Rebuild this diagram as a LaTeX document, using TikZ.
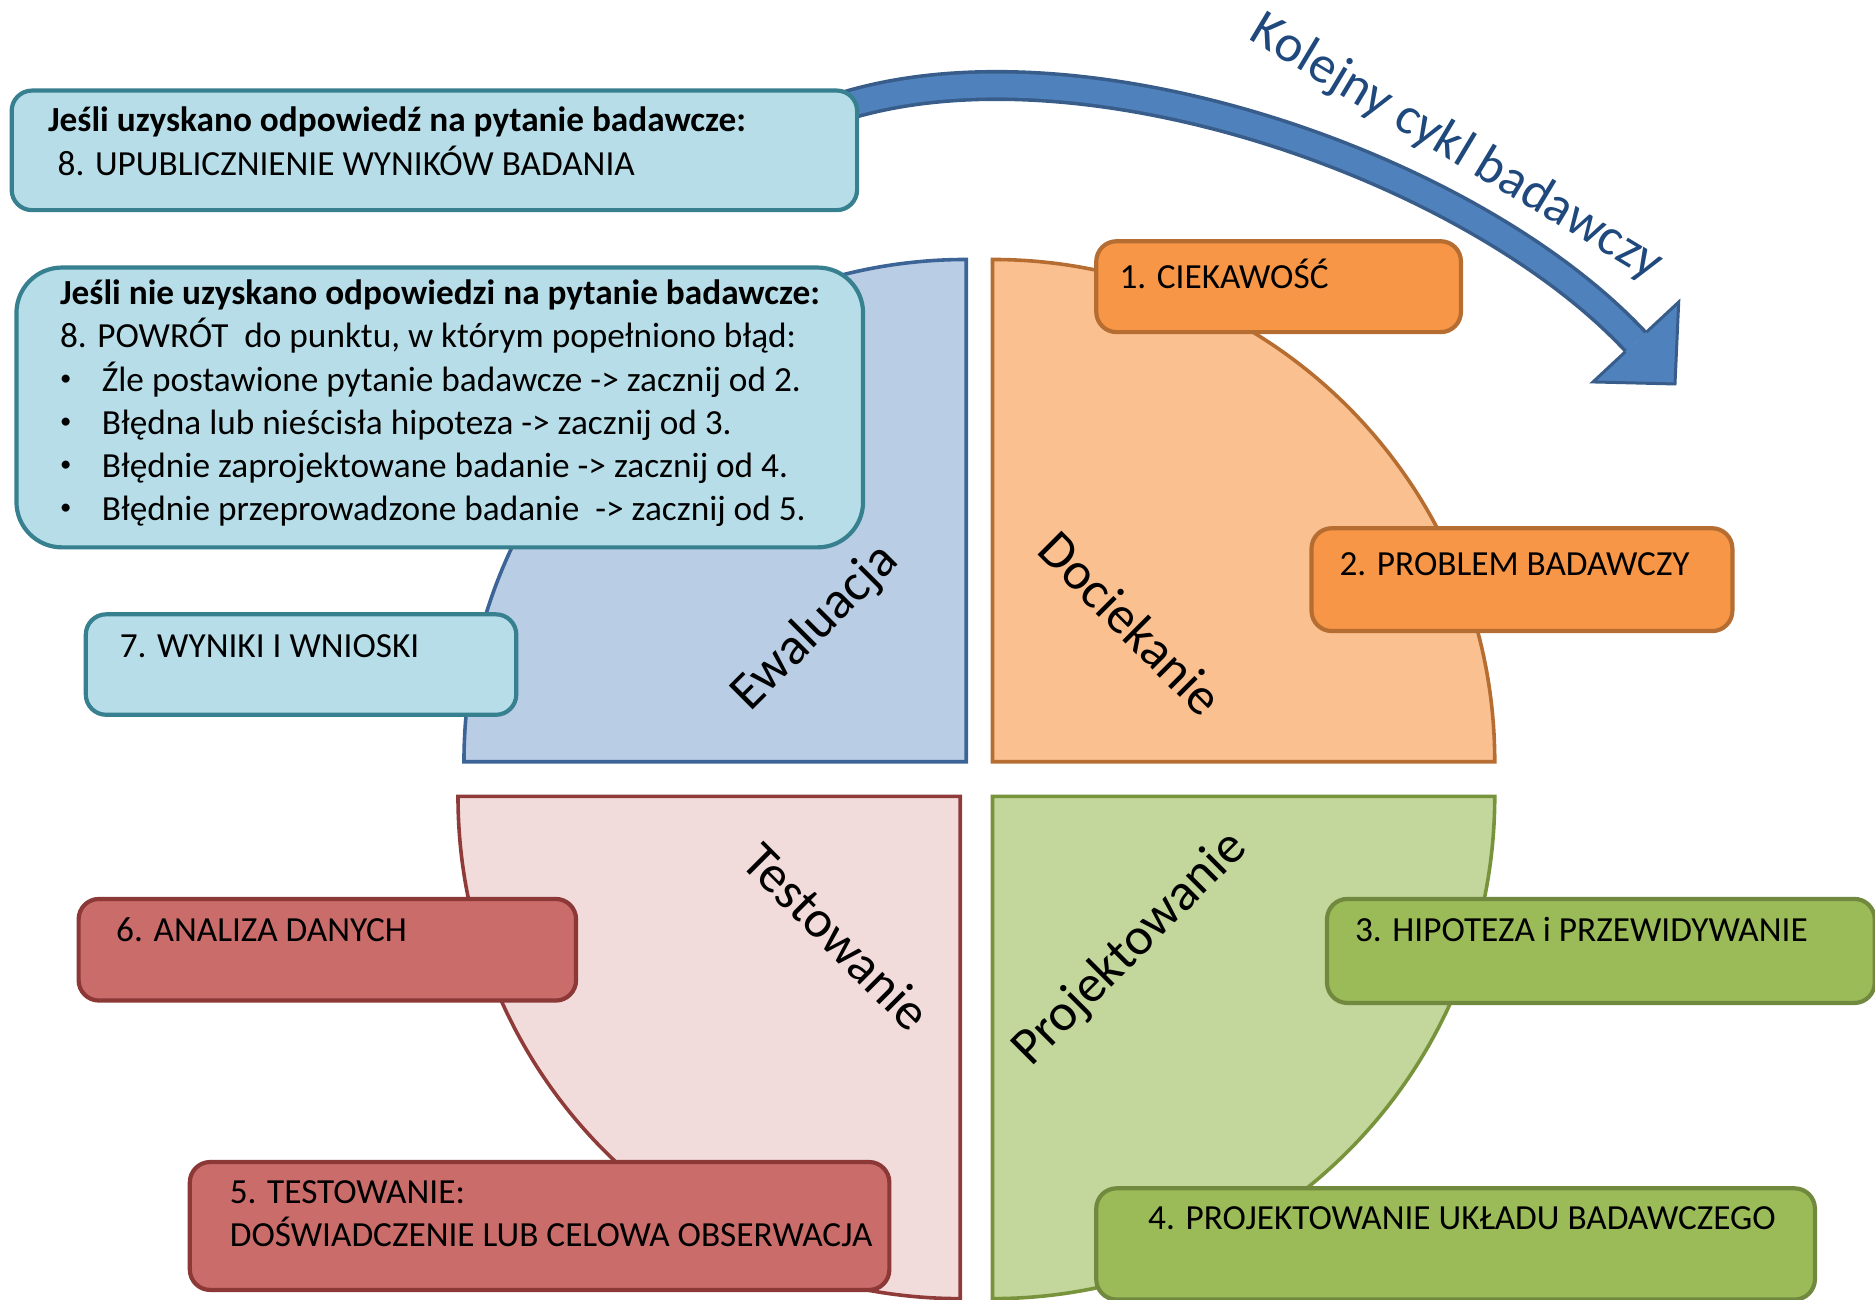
\documentclass[tikz,border=0pt]{standalone}
\usepackage{fontspec}
\setmainfont{Carlito}
\usepackage{xcolor}
\definecolor{evalBlue}{HTML}{B9CDE5}
\definecolor{evalBlueDark}{HTML}{3C6496}
\definecolor{inqPeach}{HTML}{FAC090}
\definecolor{inqPeachDark}{HTML}{B66D31}
\definecolor{testRose}{HTML}{F2DCDB}
\definecolor{testRoseDark}{HTML}{8E3B3A}
\definecolor{desSage}{HTML}{C3D69B}
\definecolor{desSageDark}{HTML}{77933C}
\definecolor{aqua}{HTML}{B7DEE8}
\definecolor{aquaDark}{HTML}{37808F}
\definecolor{amber}{HTML}{F79646}
\definecolor{amberDark}{HTML}{B66D31}
\definecolor{brick}{HTML}{C96C6A}
\definecolor{brickDark}{HTML}{8C3836}
\definecolor{olive}{HTML}{9BBB59}
\definecolor{oliveDark}{HTML}{71893F}
\definecolor{cycBlue}{HTML}{4F81BD}
\definecolor{cycBlueDark}{HTML}{385D8A}
\definecolor{cycText}{HTML}{1F497D}
\usepackage{tikz}
\usetikzlibrary{calc,positioning,backgrounds}

\begin{document}
\begin{tikzpicture}[x=1pt,y=1pt,
  quad/.style={line width=3pt},
  stage/.style={anchor=north west,inner sep=0pt,rounded corners=17pt,line width=3.5pt},
  aquabox/.style={stage,fill=aqua,draw=aquaDark},
  amberbox/.style={stage,fill=amber,draw=amberDark},
  brickbox/.style={stage,fill=brick,draw=brickDark},
  olivebox/.style={stage,fill=olive,draw=oliveDark},
  txt/.style={anchor=base west,inner sep=0pt,font=\fontsize{29.5}{35}\selectfont},
  boldtxt/.style={txt,font=\fontsize{29.5}{35}\selectfont\bfseries},
  dot/.style={anchor=center,inner sep=0pt,font=\fontsize{19}{20}\selectfont},
  phase/.style={inner sep=0pt,font=\fontsize{44}{52}\selectfont}
]
\useasboundingbox (0,0) rectangle (1568,1087);
% quarter discs
\filldraw[quad,fill=evalBlue,draw=evalBlueDark] (808,450) -- (808,870) arc (90:180:420) -- cycle;
\filldraw[quad,fill=inqPeach,draw=inqPeachDark] (830,450) -- (830,870) arc (90:0:420) -- cycle;
\filldraw[quad,fill=testRose,draw=testRoseDark] (803,421) -- (383,421) arc (180:270:420) -- cycle;
\filldraw[quad,fill=desSage,draw=desSageDark] (830,421) -- (1250,421) arc (0:-90:420) -- cycle;
\node[phase,rotate=45] (evalL) at (682,562) {Ewaluacja};
\node[phase,rotate=-45] (inqL) at (946,566) {Dociekanie};
\node[phase,rotate=-45] (testL) at (700,304) {Testowanie};
\node[phase,rotate=45] (desL) at (945,293) {Projektowanie};

% stage boxes
\node[aquabox,minimum width=707pt,minimum height=100pt] (pub) at (8,1013) {};
\node[aquabox,rounded corners=38pt,minimum width=708pt,minimum height=234pt] (back) at (12,865) {};
\node[aquabox,minimum width=360pt,minimum height=84pt] (res) at (70,575) {};
\node[amberbox,minimum width=305pt,minimum height=76pt] (cur) at (915,887) {};
\node[amberbox,minimum width=352pt,minimum height=86pt] (prob) at (1095,647) {};
\node[olivebox,minimum width=458pt,minimum height=87pt] (hyp) at (1108,337) {};
\node[olivebox,minimum width=601pt,minimum height=93pt] (des) at (915,95) {};
\node[brickbox,minimum width=585pt,minimum height=107pt] (test) at (157,117) {};
\node[brickbox,minimum width=416pt,minimum height=85pt] (ana) at (64,337) {};

\node[boldtxt] at ($(pub.north west)+(32,-36)$) {Jeśli uzyskano odpowiedź na pytanie badawcze:};
\node[txt] at ($(pub.north west)+(40,-72.5)$) {8. UPUBLICZNIENIE WYNIKÓW BADANIA};
\node[boldtxt] at ($(back.north west)+(38,-33)$) {Jeśli nie uzyskano odpowiedzi\ na pytanie badawcze:};
\node[txt] at ($(back.north west)+(38,-69)$) {8. POWRÓT\ \ do punktu, w którym popełniono błąd:};
\foreach \t [count=\i] in {Źle postawione pytanie badawcze -> zacznij od 2.,
  Błędna lub nieścisła hipoteza -> zacznij od 3.,
  Błędnie zaprojektowane badanie -> zacznij od 4.,
  Błędnie przeprowadzone badanie\ \ -> zacznij od 5.}{
  \node[dot] at ($(back.north west)+(43,-60-36*\i)$) {•};
  \node[txt] at ($(back.north west)+(73,-69-36*\i)$) {\t};
}
\node[txt] at ($(res.north west)+(30,-37.5)$) {7. WYNIKI I WNIOSKI};
\node[txt] at ($(cur.north west)+(21,-41.5)$) {1. CIEKAWOŚĆ};
\node[txt] at ($(prob.north west)+(25,-41.5)$) {2. PROBLEM BADAWCZY};
\node[txt] at ($(hyp.north west)+(25,-37.5)$) {3. HIPOTEZA i PRZEWIDYWANIE};
\node[txt] at ($(des.north west)+(45,-36.5)$) {4. PROJEKTOWANIE UKŁADU BADAWCZEGO};
\node[txt] at ($(test.north west)+(35,-36.5)$) {5. TESTOWANIE:};
\node[txt] at ($(test.north west)+(35,-72.5)$) {DOŚWIADCZENIE\ LUB CELOWA OBSERWACJA};
\node[txt] at ($(ana.north west)+(33,-37.5)$) {6. ANALIZA DANYCH};

% next cycle arrow
\coordinate (cycEnd) at (1368,801);
\begin{scope}[on background layer]
  \draw[cycBlue,line width=20pt,preaction={draw=cycBlueDark,line width=26pt}]
    ([xshift=-10pt,yshift=-14pt]pub.north east) .. controls (910,1059) and (1232,947) .. (cycEnd);
  \filldraw[fill=cycBlue,draw=cycBlueDark,line width=2.5pt]
    ($(cycEnd)+(43:12)$) -- ($(cycEnd)+(43:49)$) -- ($(cycEnd)+(-47:48)$)
    -- ($(cycEnd)+(223:49)$) -- ($(cycEnd)+(223:12)$);
\end{scope}
\node[phase,rotate=-31,text=cycText] (cyc) at (1218,963) {Kolejny cykl badawczy};
\end{tikzpicture}
\end{document}
